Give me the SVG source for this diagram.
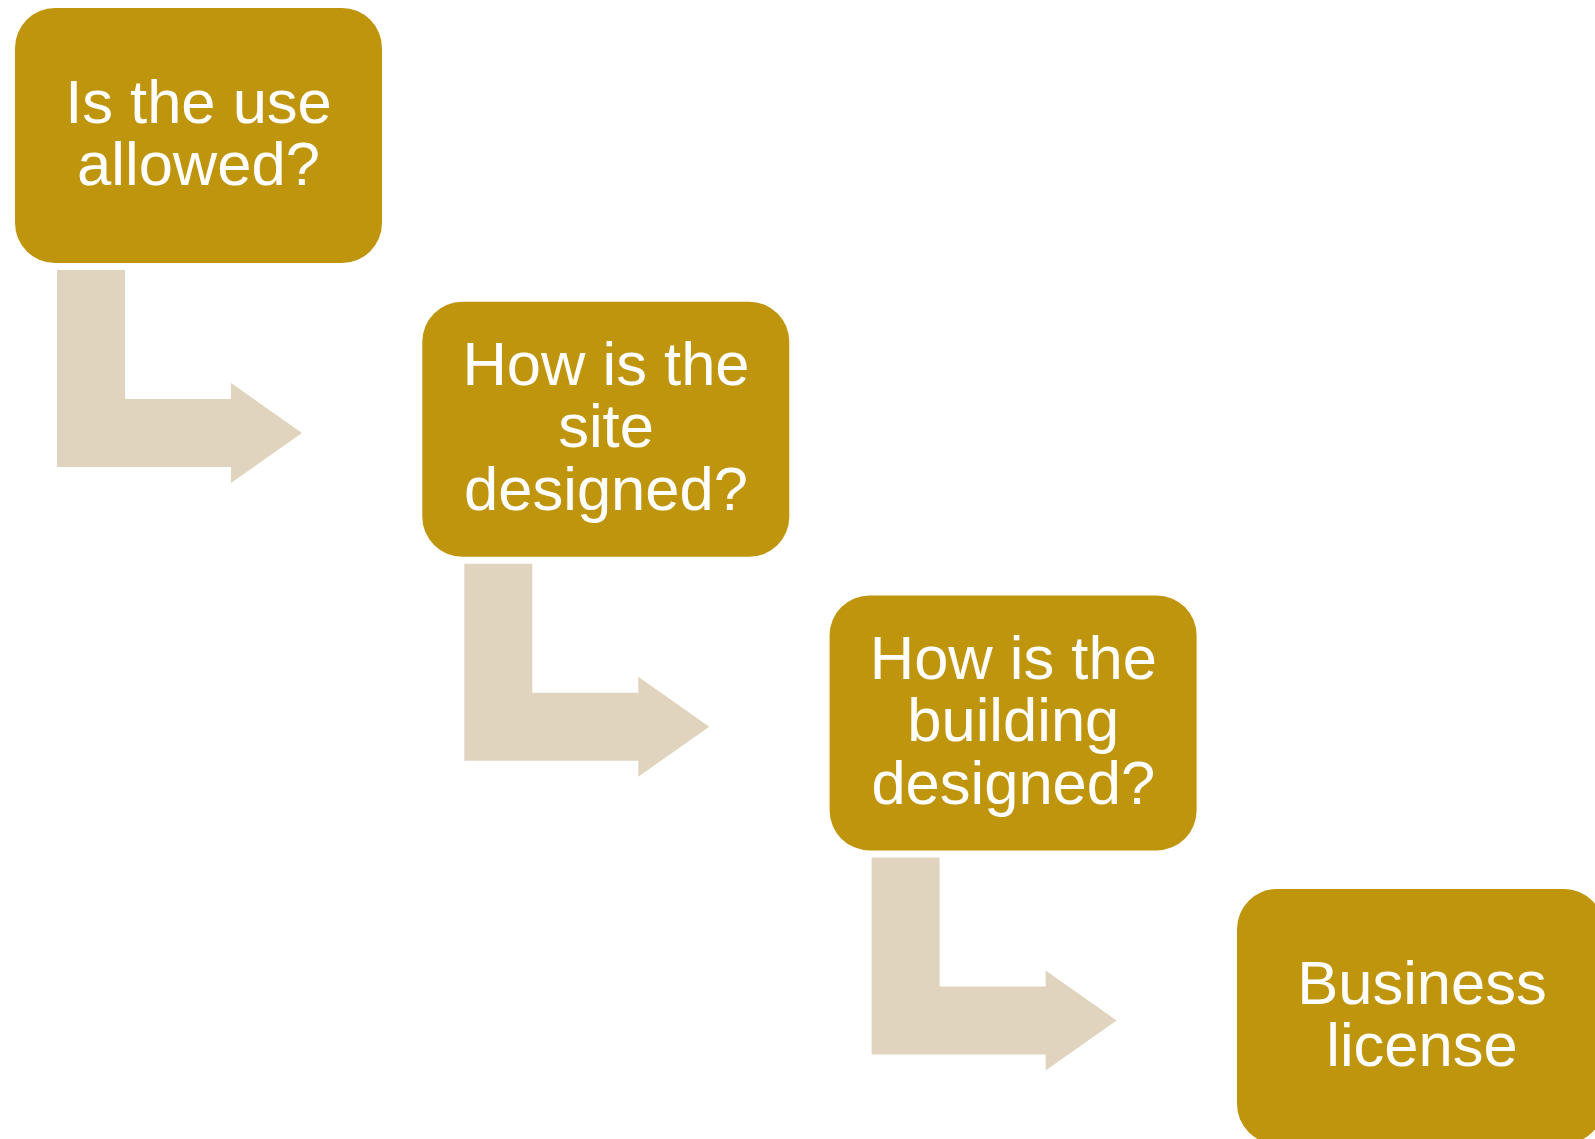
<svg xmlns="http://www.w3.org/2000/svg" width="1595" height="1139" viewBox="0 0 1595 1139">
<defs>
<style>
.box{fill:#BF950E;}
.arr{fill:#E1D4BE;}
.t{font-family:"Liberation Sans",Arial,sans-serif;font-size:61.5px;fill:#FFFFFF;text-anchor:middle;}
</style>
<polygon id="elbow" class="arr" points="57,270 125,270 125,399 231,399 231,383 302,433 231,483 231,467 57,467"/>
</defs>
<rect width="1595" height="1139" fill="#FFFFFF"/>
<g id="connectors">
<use href="#elbow"/>
<use href="#elbow" transform="translate(407.3,293.7)"/>
<use href="#elbow" transform="translate(814.6,587.4)"/>
</g>
<g id="node1">
<rect class="box" x="15" y="8" width="367" height="255" rx="40" ry="40"/>
<text class="t" x="198.5" y="123">Is the use</text>
<text class="t" x="198.5" y="185">allowed?</text>
</g>
<g id="node2">
<rect class="box" x="422.3" y="301.7" width="367" height="255" rx="40" ry="40"/>
<text class="t" x="606" y="385">How is the</text>
<text class="t" x="606" y="447">site</text>
<text class="t" x="606" y="510">designed?</text>
</g>
<g id="node3">
<rect class="box" x="829.6" y="595.4" width="367" height="255" rx="40" ry="40"/>
<text class="t" x="1013.3" y="679">How is the</text>
<text class="t" x="1013.3" y="741">building</text>
<text class="t" x="1013.3" y="804">designed?</text>
</g>
<g id="node4">
<rect class="box" x="1237" y="889" width="367" height="255" rx="40" ry="40"/>
<text class="t" x="1422" y="1004">Business</text>
<text class="t" x="1422" y="1066">license</text>
</g>
</svg>
